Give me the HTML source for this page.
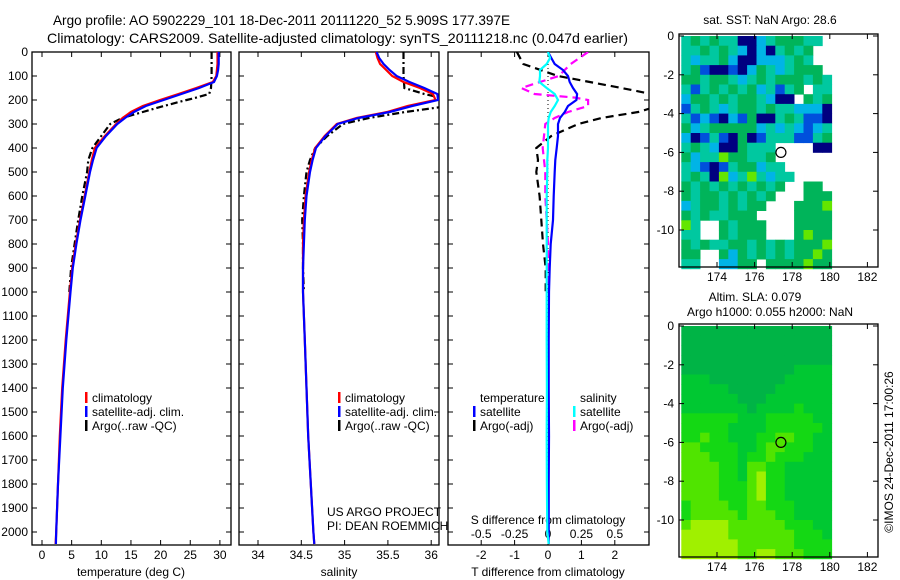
<!DOCTYPE html>
<html><head><meta charset="utf-8"><style>
body{margin:0;background:#fff;}
svg{display:block;font-family:"Liberation Sans",sans-serif;}
</style></head><body>
<svg id="c" width="900" height="580"></svg>
<script>
// ---- data ----
const depths=[0,25,50,75,100,125,150,175,200,225,250,275,300,350,400,450,500,600,700,800,900,1000,1200,1400,1600,1800,2000,2050];
const climT=[29.6,29.6,29.6,29.5,29.4,28.8,26,23,19.9,17,15,13.6,12.5,10.6,8.9,8.4,8.0,7.2,6.4,5.7,5.1,4.7,4.0,3.4,3.0,2.7,2.4,2.3];
const satT=[29.8,29.8,29.8,29.7,29.5,29.0,26.5,23.5,20.5,17.5,15.5,14.0,12.7,10.8,9.2,8.6,8.1,7.3,6.5,5.8,5.2,4.8,4.1,3.5,3.1,2.7,2.4,2.35];
const climS=[35.36,35.38,35.41,35.48,35.55,35.68,35.87,36.02,36.05,35.73,35.49,35.14,34.91,34.77,34.66,34.62,34.59,34.55,34.53,34.52,34.52,34.52,34.54,34.56,34.58,34.61,34.64,34.65];
const satS=[35.37,35.40,35.45,35.52,35.60,35.75,35.92,36.07,36.08,35.78,35.52,35.16,34.92,34.78,34.67,34.63,34.60,34.56,34.54,34.53,34.52,34.52,34.54,34.56,34.58,34.61,34.64,34.65];
const satTd=[0,0.1,0.2,0.45,0.6,0.65,0.75,0.87,0.85,0.6,0.5,0.36,0.3,0.3,0.26,0.22,0.2,0.17,0.15,0.08,0.05,0.03,0.02,0.02,0.03,0.02,0.02,0.02];
const satSd=[0,0.015,-0.01,-0.06,-0.06,-0.065,-0.01,0.05,0.075,0.05,0.02,0.005,0,0,0,-0.005,-0.005,-0.01,-0.01,-0.01,-0.01,-0.01,-0.01,-0.008,-0.01,-0.008,-0.005,0.005];
const argoDepth=[0,50,100,150,175,190,200,225,250,275,300,350,400,450,500,600,700,800,900,1000];
const argoT=[28.6,28.6,28.6,28.5,28.2,26,24.4,20.5,17,13.5,11.5,10,8.5,7.8,7.6,6.8,6.1,5.5,4.9,4.6];
const argoS=[35.68,35.68,35.68,35.69,35.92,36.1,36.15,36.2,35.7,35.28,34.98,34.8,34.66,34.6,34.56,34.53,34.51,34.52,34.52,34.53];
const argoTd=[-0.93,-0.74,0.3,2.2,3.1,3.5,3.6,3.3,2.7,1.6,0.9,0.1,-0.35,-0.3,-0.35,-0.25,-0.2,-0.15,-0.07,-0.07];
const argoSd=[0.3,0.17,0.08,-0.2,-0.1,0.2,0.3,0.3,0.15,0.05,-0.02,-0.03,-0.04,-0.03,-0.02,-0.02,-0.01,0,0,0];
const depthTicks=[0,100,200,300,400,500,600,700,800,900,1000,1100,1200,1300,1400,1500,1600,1700,1800,1900,2000];
const tempTicks=[0,5,10,15,20,25,30];
const salTicks=[34,34.5,35,35.5,36];
const tdTicks=[-2,-1,0,1,2];
const sdTicks=[-0.5,-0.25,0,0.25,0.5];
const lonTicks=[174,176,178,180,182];
const latTicks=[0,-2,-4,-6,-8,-10];
const argoLon=177.4, argoLat=-6;
const sstRows=["cgcgccnnbcgggcc.","ccgcgcbnbncgcg..","cbccgbnnbbbcgc..","cgBnnBnbgcbcggg.","ggcggcbcgcgggcgc","cBcgcgcgbcBcg.cc","bggcgcggcbnn.gcg","Bcgcbcggcgccbbbn","cBbBnbBgnncgcBBn","gbcgggggbcbcbBbc","bnBcBngnBcccBBcg","cgcbnngccc....nn","gbcclggccg......","cbBnBcggbcc.....","cgcnlbclcbcc....","gcgcgcgcgcg..gg.","gcggcgcgcg...ggg","bcggcgcgg...gggl","gcgccggg....gggg","lc..gcggg...gggg","cc..gcggg...glgg","gcgccggcgcgcgggl","gg..gbgcgcgcgglg","cc..bbgg.gggglgg"];
const slaRows=["0000000000000000","0000000000000000","0000000000000000","0000000000000000","0000000000001111","1110000000011111","1111100000111111","1111110001111111","1111111011112111","2222221112222211","2222211112222221","2232211122332211","3322221123322211","3332221223222111","3333221332211111","3333221342211111","3333222342211111","3333222342211111","2333322332221111","2333332333221111","3444433333322211","4444433333332221","4444443333332222","4444443344333222"];
const sstColor={c:"#00c8a0",g:"#00b45a",b:"#00b4e6",B:"#0050dc",n:"#000080",l:"#64e600"};
const slaColor=["#00b446","#00c832","#14d814","#50e400","#a0f000"];

const NS="http://www.w3.org/2000/svg";
const svg=document.getElementById('c');
function mk(tag,attrs,parent){const e=document.createElementNS(NS,tag);for(const k in attrs)e.setAttribute(k,attrs[k]);(parent||svg).appendChild(e);return e;}
function txt(x,y,s,opt,parent){const e=mk('text',Object.assign({x:x,y:y,'font-size':12,fill:'#000'},opt||{}),parent);e.textContent=s;return e;}

const PT=52,PB=545;
const yD=d=>PT+d*0.24;
const xT=t=>42+t*5.93;
const xS=s=>258+(s-34)*86.6;
const xTd=t=>548+t*33.4;
const xSd=s=>548+s*133.6;

let t1=txt(53,25,"Argo profile: AO 5902229_101 18-Dec-2011 20111220_52 5.909S 177.397E",{'font-size':14,textLength:457,lengthAdjust:'spacingAndGlyphs'});

let t2=txt(47,43,"Climatology: CARS2009. Satellite-adjusted climatology: synTS_20111218.nc (0.047d earlier)",{'font-size':14,textLength:581,lengthAdjust:'spacingAndGlyphs'});


function panel(name,x0,x1){
  const g=mk('g',{});
  
  const cp=mk('clipPath',{id:'cp-'+name},g);mk('rect',{x:x0,y:PT,width:x1-x0,height:PB-PT},cp);
  const r=mk('rect',{x:x0,y:PT,width:x1-x0,height:PB-PT,fill:'none',stroke:'#000','stroke-width':1.3},g);
  
  depthTicks.forEach(d=>{mk('line',{x1:x0,x2:x0+5,y1:yD(d),y2:yD(d),stroke:'#000'},g);mk('line',{x1:x1,x2:x1-5,y1:yD(d),y2:yD(d),stroke:'#000'},g);});
  return g;
}
function line(g,xs,ds,fx,color,dash,name,clip){
  const p=mk('polyline',{points:xs.map((v,i)=>fx(v).toFixed(1)+','+yD(ds[i]).toFixed(1)).join(' '),fill:'none',stroke:color,'stroke-width':2.2,'stroke-dasharray':dash||'none','clip-path':'url(#'+clip+')'},g);
  
}
function xticks(g,ticks,fx,fmt,ybase){
  ticks.forEach(v=>{mk('line',{x1:fx(v),x2:fx(v),y1:PB,y2:PB-5,stroke:'#000'},g);mk('line',{x1:fx(v),x2:fx(v),y1:PT,y2:PT+5,stroke:'#000'},g);
    const l=txt(fx(v),ybase,fmt(v),{'text-anchor':'middle'},g);});
}
function legend(g,x,y,items){
  items.forEach((it,i)=>{const yy=y+i*14;
    if(it[0]){const b=mk('rect',{x:x,y:yy-10,width:2.5,height:11,fill:it[0]},g);}
    const l=txt(x+7,yy,it[1],{},g);});
}
const g1=panel('temperature-panel',32,231);
depthTicks.forEach(d=>{const l=txt(28,yD(d)+4,String(d),{'text-anchor':'end'},g1);});
xticks(g1,tempTicks,xT,v=>String(v),559);
let a1=txt(131,576,"temperature (deg C)",{'text-anchor':'middle'},g1);
line(g1,argoT,argoDepth,xT,'#000','7,3,2,3','argo-temperature-line','cp-temperature-panel');
line(g1,climT,depths,xT,'#f00',null,'climatology-temperature-line','cp-temperature-panel');
line(g1,satT,depths,xT,'#00f',null,'satellite-temperature-line','cp-temperature-panel');
legend(g1,85,402,[['#f00','climatology'],['#00f','satellite-adj. clim.'],['#000','Argo(..raw -QC)']]);
const g2=panel('salinity-panel',239,439);
xticks(g2,salTicks,xS,v=>String(v),559);
let a2=txt(339,576,"salinity",{'text-anchor':'middle'},g2);
line(g2,argoS,argoDepth,xS,'#000','7,3,2,3','argo-salinity-line','cp-salinity-panel');
line(g2,climS,depths,xS,'#f00',null,'climatology-salinity-line','cp-salinity-panel');
line(g2,satS,depths,xS,'#00f',null,'satellite-salinity-line','cp-salinity-panel');
legend(g2,338,402,[['#f00','climatology'],['#00f','satellite-adj. clim.'],['#000','Argo(..raw -QC)']]);
let c1=txt(327,516,"US ARGO PROJECT",{},g2);
let c2=txt(327,530,"PI: DEAN ROEMMICH",{},g2);
const g3=panel('difference-panel',448,649);
mk('line',{x1:548,x2:548,y1:PT,y2:PB,stroke:'#000','stroke-dasharray':'1,3'},g3);
tdTicks.forEach(v=>{mk('line',{x1:xTd(v),x2:xTd(v),y1:PB,y2:PB-5,stroke:'#000'},g3);mk('line',{x1:xTd(v),x2:xTd(v),y1:PT,y2:PT+5,stroke:'#000'},g3);
  const l=txt(xTd(v),559,String(v),{'text-anchor':'middle'},g3);});
sdTicks.forEach(v=>{const l=txt(xSd(v),538,String(v),{'text-anchor':'middle'},g3);});
let a3=txt(548,576,"T difference from climatology",{'text-anchor':'middle'},g3);
let a4=txt(548,524,"S difference from climatology",{'text-anchor':'middle'},g3);
line(g3,argoTd,argoDepth,xTd,'#000','8,5','argo-t-diff-line','cp-difference-panel');
line(g3,argoSd,argoDepth,xSd,'#f0f','8,5','argo-s-diff-line','cp-difference-panel');
line(g3,satTd,depths,xTd,'#00f',null,'satellite-t-diff-line','cp-difference-panel');
line(g3,satSd,depths,xSd,'#0ff',null,'satellite-s-diff-line','cp-difference-panel');
legend(g3,473,402,[[null,'temperature'],['#00f','satellite'],['#000','Argo(-adj)']]);
legend(g3,573,402,[[null,'salinity'],['#0ff','satellite'],['#f0f','Argo(-adj)']]);

function map(name,top,rows,colorOf){
  const g=mk('g',{});
  const X0=679,X1=878,Y0=top,Y1=top+233;
  const lx=lon=>717+(lon-174)*18.8;
  const ly=lat=>top+2-lat*19.4;
  rows.forEach((row,ri)=>{for(let ci=0;ci<row.length;ci++){const col=colorOf(row[ci]);if(!col)continue;
    const x=lx(172.1+ci*0.5),y=ly(-ri*0.5);
    const r=mk('rect',{x:x.toFixed(1),y:y.toFixed(1),width:(0.5*18.8+0.4).toFixed(1),height:(0.5*19.4+0.4).toFixed(1),fill:col},g);
    }});
  mk('rect',{x:X0,y:Y0,width:X1-X0,height:Y1-Y0,fill:'none',stroke:'#000','stroke-width':1.3},g);
  lonTicks.forEach(v=>{mk('line',{x1:lx(v),x2:lx(v),y1:Y1,y2:Y1-5,stroke:'#000'},g);mk('line',{x1:lx(v),x2:lx(v),y1:Y0,y2:Y0+5,stroke:'#000'},g);
    const l=txt(lx(v),Y1+14,String(v),{'text-anchor':'middle'},g);});
  latTicks.forEach(v=>{mk('line',{x1:X0,x2:X0+5,y1:ly(v),y2:ly(v),stroke:'#000'},g);mk('line',{x1:X1,x2:X1-5,y1:ly(v),y2:ly(v),stroke:'#000'},g);
    const l=txt(X0-5,ly(v)+4,String(v),{'text-anchor':'end'},g);});
  const c=mk('circle',{cx:lx(argoLon),cy:ly(argoLat),r:5,fill:'none',stroke:'#000','stroke-width':1.2},g);
  
  return {g,lx,ly};
}
const m1=map('sst-map',34,sstRows,ch=>sstColor[ch]);
let mt1=txt(770,24,"sat. SST: NaN Argo: 28.6",{'text-anchor':'middle'},m1.g);
const m2=map('sla-map',324,slaRows,ch=>slaColor[+ch]);
let mt2=txt(755,301,"Altim. SLA: 0.079",{'text-anchor':'middle'},m2.g);
let mt3=txt(770,316,"Argo h1000: 0.055 h2000: NaN",{'text-anchor':'middle'},m2.g);
let cr=txt(0,0,"©IMOS 24-Dec-2011 17:00:26",{'text-anchor':'middle',transform:'translate(893,452) rotate(-90)'});

</script>
</body></html>
